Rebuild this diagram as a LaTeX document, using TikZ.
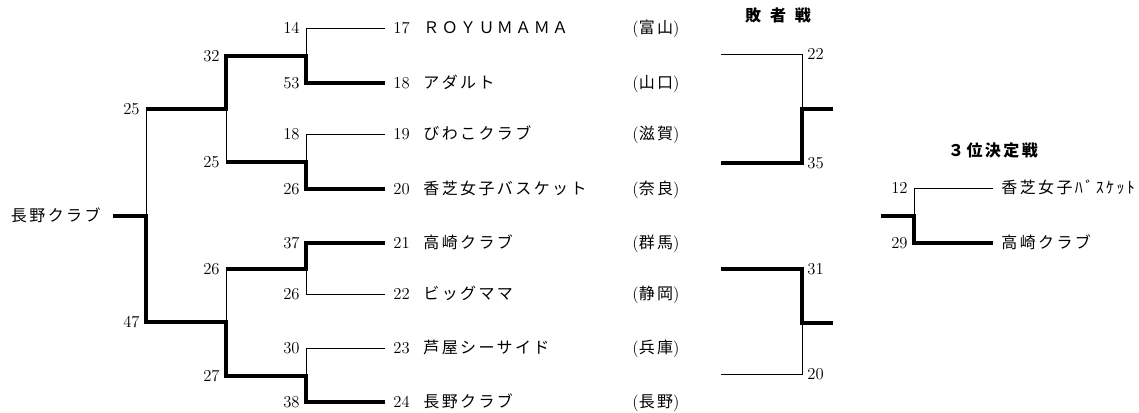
\documentclass[tikz,border=0pt]{standalone}
\usepackage{fontspec}
\newfontfamily\cjk[LetterSpace=15]{Noto Sans CJK JP}
\usetikzlibrary{positioning}

% number, name, prefecture
\newcommand{\entry}[3]{\makebox[22.5pt][l]{#1}\makebox[156.75pt][l]{\cjk\fontsize{12}{14}\selectfont #2}({\cjk\fontsize{12}{14}\selectfont #3})}

\begin{document}
\begin{tikzpicture}[x=0.75pt,y=-0.75pt,line width=0.6pt,line join=miter,
	win/.style={line width=3.6pt},
	team/.style={anchor=west,inner xsep=6pt,inner ysep=0pt,text height=10pt,text depth=2pt,
		font=\fontsize{12.5}{14}\selectfont},
	score/.style={inner sep=0pt,font=\fontsize{12.5}{14}\selectfont},
	head/.style={font=\cjk\bfseries\fontsize{12}{14}\selectfont}]

	\useasboundingbox (0,0) rectangle (1139,413);

	% main bracket
	\node[team] at (385,28)  (t17) {\entry{17}{ＲＯＹＵＭＡＭＡ}{富山}};
	\node[team] at (385,83)  (t18) {\entry{18}{アダルト}{山口}};
	\node[team] at (385,134) (t19) {\entry{19}{びわこクラブ}{滋賀}};
	\node[team] at (385,189) (t20) {\entry{20}{香芝女子バスケット}{奈良}};
	\node[team] at (385,243) (t21) {\entry{21}{高崎クラブ}{群馬}};
	\node[team] at (385,294) (t22) {\entry{22}{ビッグママ}{静岡}};
	\node[team] at (385,348) (t23) {\entry{23}{芦屋シーサイド}{兵庫}};
	\node[team] at (385,402) (t24) {\entry{24}{長野クラブ}{長野}};

	\coordinate (j1) at (306,56);
	\coordinate (j2) at (306,162);
	\coordinate (j3) at (306,269);
	\coordinate (j4) at (306,376);
	\coordinate (k1) at (226,109);
	\coordinate (k2) at (226,322);
	\coordinate (f) at (146,216);
	\node[team,anchor=east,inner xsep=9pt] at (113,216) (champ) {\cjk\fontsize{12}{14}\selectfont 長野クラブ};

	\draw (t17.west) -| (j1);
	\draw[win] (t18.west) -| (j1) -| (k1) -- (k1 -| f);
	\draw (t19.west) -| (j2);
	\draw[win] (t20.west) -| (j2) -- (j2 -| k1);
	\draw (j2 -| k1) -- (k1);
	\draw (k1 -| f) -- (f);
	\draw[win] (t21.west) -| (j3) -- (j3 -| k2);
	\draw (t22.west) -| (j3);
	\draw (j3 -| k2) -- (k2);
	\draw (t23.west) -| (j4);
	\draw[win] (t24.west) -| (j4) -| (k2) -| (f) -- (champ.east);

	\node[score,anchor=east] at (300,28)  (s17) {14};
	\node[score,anchor=east] at (300,83)  (s18) {53};
	\node[score,anchor=east] at (300,134) (s19) {18};
	\node[score,anchor=east] at (300,189) (s20) {26};
	\node[score,anchor=east] at (300,243) (s21) {37};
	\node[score,anchor=east] at (300,294) (s22) {26};
	\node[score,anchor=east] at (300,348) (s23) {30};
	\node[score,anchor=east] at (300,402) (s24) {38};
	\node[score,anchor=east] at (220,56)  (sj1) {32};
	\node[score,anchor=east] at (220,162) (sj2) {25};
	\node[score,anchor=east] at (220,269) (sj3) {26};
	\node[score,anchor=east] at (220,376) (sj4) {27};
	\node[score,anchor=east] at (140,109) (sk1) {25};
	\node[score,anchor=east] at (140,322) (sk2) {47};

	% losers
	\node[head] at (778,15) (lhead) {敗\hspace{0.55em}者\hspace{0.55em}戦};
	\coordinate (la) at (721,54);
	\coordinate (lb) at (721,163);
	\coordinate (lj) at (802,109);
	\coordinate (lo) at (833,109);
	\coordinate (lc) at (721,269);
	\coordinate (ld) at (721,374);
	\coordinate (lk) at (802,323);
	\coordinate (lp) at (833,323);

	\draw (la) -| (lj);
	\draw[win] (lb) -| (lj) -- (lo);
	\draw[win] (lc) -| (lk) -- (lp);
	\draw (ld) -| (lk);

	\node[score,anchor=west] at (807,54)  (sla) {22};
	\node[score,anchor=west] at (807,163) (slb) {35};
	\node[score,anchor=west] at (807,269) (slc) {31};
	\node[score,anchor=west] at (807,374) (sld) {20};

	% 3rd place
	\node[head] at (993,150) (thead) {３位決定戦};
	\node[team] at (993,188) (p1) {\cjk\fontsize{12}{14}\selectfont 香芝女子ﾊﾞｽｹｯﾄ};
	\node[team] at (993,243) (p2) {\cjk\fontsize{12}{14}\selectfont 高崎クラブ};
	\coordinate (q) at (914,216);
	\coordinate (qa) at (881,216);

	\draw (p1.west) -| (q);
	\draw[win] (p2.west) -| (q) -- (qa);

	\node[score,anchor=east] at (908,188) (sp1) {12};
	\node[score,anchor=east] at (908,243) (sp2) {29};

\end{tikzpicture}
\end{document}
